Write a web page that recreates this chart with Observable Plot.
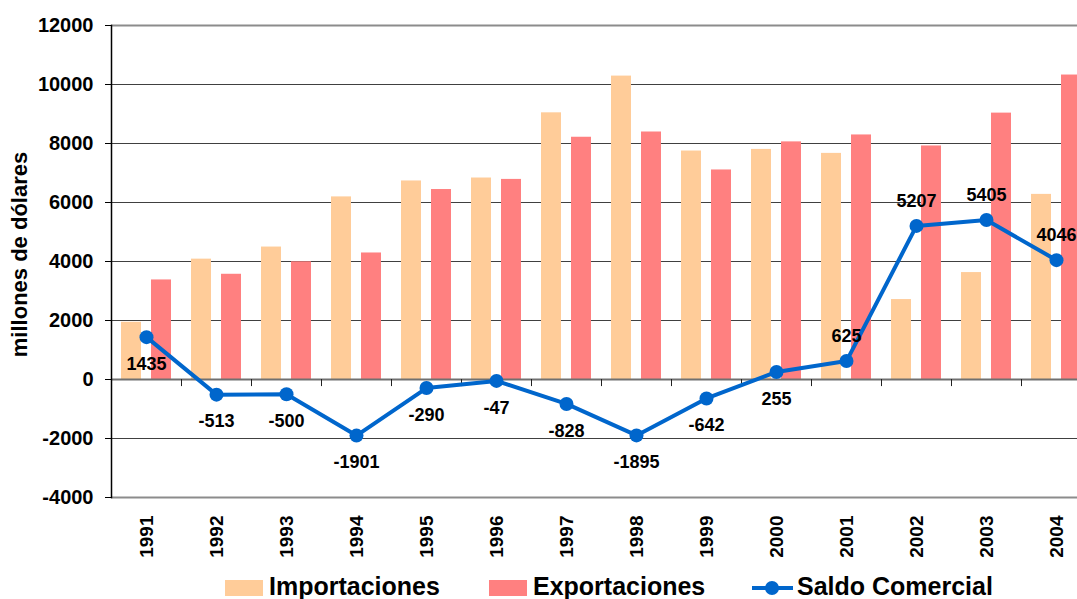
<!DOCTYPE html>
<html>
<head>
<meta charset="utf-8">
<script src="https://cdn.jsdelivr.net/npm/d3@7"></script>
<script src="https://cdn.jsdelivr.net/npm/@observablehq/plot@0.6"></script>
<style>
html, body { margin: 0; padding: 0; background: #fff; overflow: hidden; }
#wrap { position: relative; width: 1077px; height: 599px; overflow: hidden; font-family: "Liberation Sans", Arial, sans-serif; }
#chart svg { display: block; }
.lg { position: absolute; }
.lg-text { position: absolute; top: 574px; font-size: 25px; line-height: 25px; font-weight: bold; color: #000; white-space: nowrap; }
</style>
</head>
<body>
<div id="wrap">
  <div id="chart"></div>
  <div id="legend"></div>
</div>
<script>
// ---- data ----
const years = [1991, 1992, 1993, 1994, 1995, 1996, 1997, 1998, 1999, 2000, 2001, 2002, 2003, 2004];
const importaciones = [1940, 4080, 4490, 6190, 6730, 6830, 9040, 10285, 7745, 7800, 7665, 2710, 3625, 6275];
const exportaciones = [3375, 3567, 3990, 4289, 6440, 6783, 8212, 8390, 7103, 8055, 8290, 7917, 9030, 10321];
const saldo = [1435, -513, -500, -1901, -290, -47, -828, -1895, -642, 255, 625, 5207, 5405, 4046];
const seriesNames = ["Importaciones", "Exportaciones", "Saldo Comercial"];
const yTicks = [-4000, -2000, 0, 2000, 4000, 6000, 8000, 10000, 12000];
const yLabel = "millones de dólares";

const colImp = "#FFCC99", colExp = "#FF8080", colLine = "#0066CC";

const data = years.map((y, i) => ({
  year: String(y), imp: importaciones[i], exp: exportaciones[i], saldo: saldo[i]
}));

const font = "'Liberation Sans', Arial, sans-serif";

const chart = Plot.plot({
  width: 1077,
  height: 565,
  marginTop: 25,
  marginBottom: 68,
  marginLeft: 111,
  marginRight: 0,
  style: { fontFamily: font, background: "#fff", color: "#000" },
  x: { type: "band", domain: data.map(d => d.year), padding: 0, range: [111, 1091], label: null },
  y: { domain: [-4000, 12000], label: null },
  marks: [
    Plot.ruleY(yTicks.filter(t => t !== 0 && t !== 12000 && t !== -4000), { stroke: "#404040", strokeWidth: 1 }),
    Plot.ruleY([12000, -4000], { stroke: "#8c8c8c", strokeWidth: 2 }),
    Plot.barY(data, { x: "year", y: "imp", fill: colImp, insetLeft: 10, insetRight: 40 }),
    Plot.barY(data, { x: "year", y: "exp", fill: colExp, insetLeft: 40, insetRight: 10 }),
    Plot.ruleY([0], { stroke: "#707070", strokeWidth: 2 }),
    Plot.ruleX(data.slice(0, -1), { x: "year", dx: 35, y1: 0, y2: -240, stroke: "#222", strokeWidth: 1 }),
    Plot.frame({ anchor: "left", stroke: "#000", strokeWidth: 1.5 }),
    Plot.axisY({ ticks: yTicks, tickSize: 6, tickPadding: 12, fontSize: 20, fontWeight: "bold", tickFormat: d => String(d), label: null }),
    Plot.axisX({ tickSize: 0, tickRotate: -90, tickPadding: 18, fontSize: 19, fontWeight: "bold", label: null }),
    Plot.text([yLabel], { text: d => d, frameAnchor: "left", textAnchor: "middle", dx: -92, dy: -7, rotate: -90, fontSize: 22, fontWeight: "bold" }),
    Plot.line(data, { x: "year", y: "saldo", stroke: colLine, strokeWidth: 4 }),
    Plot.dot(data, { x: "year", y: "saldo", r: 7, fill: colLine, stroke: "none" }),
    Plot.text(data.filter(d => +d.year <= 2000), { x: "year", y: "saldo", text: d => String(d.saldo), dy: 27, fontSize: 18, fontWeight: "bold", fill: "#000" }),
    Plot.text(data.filter(d => +d.year > 2000), { x: "year", y: "saldo", text: d => String(d.saldo), dy: -25, fontSize: 18, fontWeight: "bold", fill: "#000" })
  ]
});
document.getElementById("chart").appendChild(chart);

// ---- legend ----
const lg = document.getElementById("legend");
const swatchLeft = [225, 489];
[colImp, colExp].forEach((c, i) => {
  const s = document.createElement("div");
  s.className = "lg";
  Object.assign(s.style, { left: swatchLeft[i] + "px", top: "580px", width: "38px", height: "16px", background: c });
  lg.appendChild(s);
});
const ln = document.createElement("div");
ln.className = "lg";
Object.assign(ln.style, { left: "752px", top: "586px", width: "41px", height: "4px", background: colLine });
lg.appendChild(ln);
const dt = document.createElement("div");
dt.className = "lg";
Object.assign(dt.style, { left: "765px", top: "581px", width: "14px", height: "14px", borderRadius: "50%", background: colLine });
lg.appendChild(dt);
const textLeft = [269, 533, 797];
seriesNames.forEach((n, i) => {
  const t = document.createElement("div");
  t.className = "lg-text";
  t.style.left = textLeft[i] + "px";
  t.textContent = n;
  lg.appendChild(t);
});
</script>
</body>
</html>
